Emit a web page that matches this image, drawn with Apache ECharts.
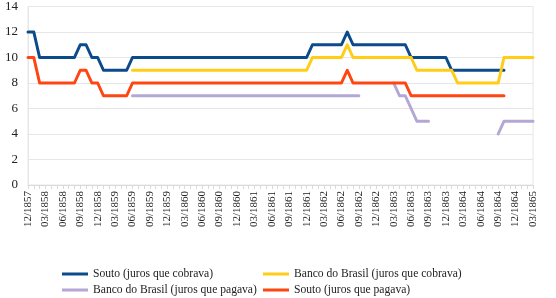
<!DOCTYPE html>
<html>
<head>
<meta charset="utf-8">
<script src="https://cdn.jsdelivr.net/npm/echarts@6/dist/echarts.min.js"></script>
<style>
  html, body { margin: 0; padding: 0; background: #fff; }
  #chart { width: 556px; height: 298px; }
</style>
</head>
<body>
<div id="chart"></div>
<script>
// months 12/1857 .. 03/1865 (88 categories)
var months = [];
for (var y = 1857, m = 12; y < 1865 || m <= 3; ) {
  months.push((m < 10 ? '0' + m : '' + m) + '/' + y);
  m++;
  if (m > 12) { m = 1; y++; }
}

var _ = null;
// Souto (juros que cobrava)
var soutoCobrava = [
  12,12,10,10,10,10,10,10,10,11,
  11,10,10, 9, 9, 9, 9, 9,10,10,
  10,10,10,10,10,10,10,10,10,10,
  10,10,10,10,10,10,10,10,10,10,
  10,10,10,10,10,10,10,10,10,11,
  11,11,11,11,11,12,11,11,11,11,
  11,11,11,11,11,11,10,10,10,10,
  10,10,10, 9, 9, 9, 9, 9, 9, 9,
   9, 9, 9, _, _, _, _, _
];
// Banco do Brasil (juros que cobrava)
var bbCobrava = [
   _, _, _, _, _, _, _, _, _, _,
   _, _, _, _, _, _, _, _, 9, 9,
   9, 9, 9, 9, 9, 9, 9, 9, 9, 9,
   9, 9, 9, 9, 9, 9, 9, 9, 9, 9,
   9, 9, 9, 9, 9, 9, 9, 9, 9,10,
  10,10,10,10,10,11,10,10,10,10,
  10,10,10,10,10,10,10, 9, 9, 9,
   9, 9, 9, 9, 8, 8, 8, 8, 8, 8,
   8, 8,10,10,10,10,10,10
];
// Banco do Brasil (juros que pagava)
var bbPagava = [
   _, _, _, _, _, _, _, _, _, _,
   _, _, _, _, _, _, _, _, 7, 7,
   7, 7, 7, 7, 7, 7, 7, 7, 7, 7,
   7, 7, 7, 7, 7, 7, 7, 7, 7, 7,
   7, 7, 7, 7, 7, 7, 7, 7, 7, 7,
   7, 7, 7, 7, 7, 7, 7, 7, _, _,
   _, _, _, 8, 7, 7, 6, 5, 5, 5,
   _, _, _, _, _, _, _, _, _, _,
   _, 4, 5, 5, 5, 5, 5, 5
];
// Souto (juros que pagava)
var soutoPagava = [
  10,10, 8, 8, 8, 8, 8, 8, 8, 9,
   9, 8, 8, 7, 7, 7, 7, 7, 8, 8,
   8, 8, 8, 8, 8, 8, 8, 8, 8, 8,
   8, 8, 8, 8, 8, 8, 8, 8, 8, 8,
   8, 8, 8, 8, 8, 8, 8, 8, 8, 8,
   8, 8, 8, 8, 8, 9, 8, 8, 8, 8,
   8, 8, 8, 8, 8, 8, 7, 7, 7, 7,
   7, 7, 7, 7, 7, 7, 7, 7, 7, 7,
   7, 7, 7, _, _, _, _, _
];

var names = [
  'Souto (juros que cobrava)',
  'Banco do Brasil (juros que cobrava)',
  'Banco do Brasil (juros que pagava)',
  'Souto (juros que pagava)'
];
var colors = ['#0B4A8B', '#FFCD17', '#B4A7D6', '#FF4612'];
var values = [soutoCobrava, bbCobrava, bbPagava, soutoPagava];

var chart = echarts.init(document.getElementById('chart'));

var series = values.map(function (d, k) {
  return {
    name: names[k],
    type: 'line',
    data: d,
    showSymbol: false,
    connectNulls: false,
    animation: false,
    lineStyle: { width: 3, color: colors[k], cap: 'round', join: 'round' },
    itemStyle: { color: colors[k] },
    z: 2 + k
  };
});

// one legend per item so the two columns line up like the original
var legendPos = [[62, 268], [263, 268], [62, 284], [263, 284]];
var legends = names.map(function (n, k) {
  return {
    orient: 'horizontal',
    left: legendPos[k][0],
    top: legendPos[k][1],
    padding: 0,
    itemWidth: 26,
    itemHeight: 3,
    icon: 'rect',
    selectedMode: false,
    data: [n],
    textStyle: { fontFamily: 'Liberation Serif', fontSize: 11.6, color: '#222' }
  };
});

chart.setOption({
  backgroundColor: '#fff',
  animation: false,
  color: colors,
  grid: {
    left: 28, right: 23, top: 6, bottom: 113,
    containLabel: false,
    show: true,
    borderColor: '#E6E6E6',
    borderWidth: 1
  },
  legend: legends,
  xAxis: {
    type: 'category',
    data: months,
    boundaryGap: false,
    axisLine: { lineStyle: { color: '#DADADA' } },
    axisTick: { show: true, interval: 0, length: 4, lineStyle: { color: '#DADADA' } },
    axisLabel: {
      interval: 2,
      rotate: 90,
      margin: 6,
      fontFamily: 'Liberation Serif',
      fontSize: 11,
      color: '#222'
    },
    splitLine: { show: false }
  },
  yAxis: {
    type: 'value',
    min: 0,
    max: 14,
    interval: 2,
    axisLine: { show: true, lineStyle: { color: '#E6E6E6' } },
    axisTick: { show: false },
    axisLabel: {
      margin: 10,
      fontFamily: 'Liberation Serif',
      fontSize: 13,
      color: '#222'
    },
    splitLine: { lineStyle: { color: '#E6E6E6' } }
  },
  series: series
});
</script>
</body>
</html>
